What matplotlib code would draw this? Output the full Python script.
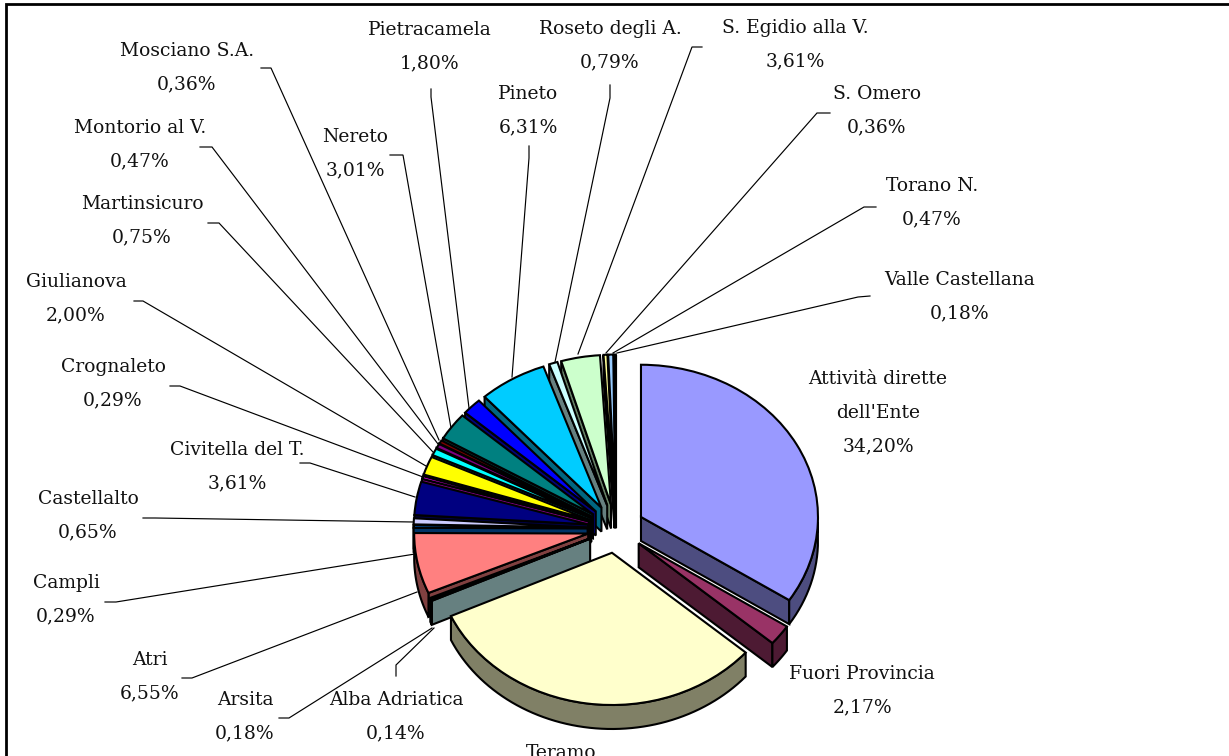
import numpy as np
import matplotlib
matplotlib.use('Agg')
import matplotlib.pyplot as plt
from matplotlib.patches import Polygon
from matplotlib.transforms import Affine2D
from matplotlib.colors import to_rgb

names = ["Attività dirette\ndell'Ente", "Fuori Provincia", "Teramo", "Alba Adriatica", "Arsita", "Atri",
         "Campli", "Castellalto", "Civitella del T.", "Crognaleto", "Giulianova", "Martinsicuro",
         "Montorio al V.", "Mosciano S.A.", "Nereto", "Pietracamela", "Pineto", "Roseto degli A.",
         "S. Egidio alla V.", "S. Omero", "Torano N.", "Valle Castellana"]
values = [34.20, 2.17, 31.81, 0.14, 0.18, 6.55, 0.29, 0.65, 3.61, 0.29, 2.00, 0.75,
          0.47, 0.36, 3.01, 1.80, 6.31, 0.79, 3.61, 0.36, 0.47, 0.18]
colors = ['#9999FF', '#993366', '#FFFFCC', '#CCFFFF', '#660066', '#FF8080', '#0066CC', '#CCCCFF',
          '#000080', '#FF00FF', '#FFFF00', '#00FFFF', '#800080', '#800000', '#008080', '#0000FF',
          '#00CCFF', '#CCFFFF', '#CCFFCC', '#FFFF99', '#99CCFF', '#FF99CC']

# layout, in picture pixels (y from the top)
W, H = 1229, 756
cx, cy = 616, 528.6
radius = 177
fan_radius = 174  # the small slices at the back look a bit smaller
squash = 0.86
explode = 28.4
depth = 24
edge_lw = 1.5
label_pos = [(878, 379), (862, 674), (561, 753), (396, 700), (245, 700), (150, 660),
             (66, 583), (88, 499), (237, 450), (113, 367), (76, 282), (142, 204),
             (140, 128), (187, 51), (355, 137), (430, 30), (528, 94), (610, 29),
             (795, 28), (877, 94), (932, 186), (960, 280)]
leaders = [None, None, None,
           [(396, 676), (396, 665), (434, 628)],
           [(279, 718), (289, 718), (432, 628)],
           [(182, 678), (192, 678), (417, 592)],
           [(105, 602), (116, 602), (415, 554)],
           [(143, 518), (155, 518), (413, 522)],
           [(300, 463), (310, 463), (415, 497)],
           [(170, 386), (180, 386), (423, 477)],
           [(134, 301), (143, 301), (426, 466)],
           [(208, 223), (219, 223), (433, 452)],
           [(200, 147), (212, 147), (438, 444)],
           [(261, 68), (271, 68), (439, 440)],
           [(390, 155), (403, 155), (451, 428)],
           [(431, 89), (431, 97), (469, 408)],
           [(529, 146), (529, 158), (512, 377)],
           [(610, 85), (610, 98), (555, 362)],
           [(702, 47), (692, 47), (578, 354)],
           [(830, 113), (817, 113), (606, 353)],
           [(876, 207), (864, 207), (613, 353)],
           [(870, 296), (858, 297), (617, 353)]]

plt.rcParams['font.family'] = 'DejaVu Serif'
fig = plt.figure(figsize=(W / 100, H / 100), dpi=100)
ax = fig.add_axes([0, 0, 1, 1])

cy_up = H - cy
wedges, _ = ax.pie(values, colors=colors, explode=[explode] * len(values), startangle=90,
                   counterclock=False, radius=radius, center=(cx, cy_up), normalize=True,
                   wedgeprops=dict(edgecolor='black', linewidth=edge_lw, zorder=50))
ax.set_aspect('auto')
ax.set_xlim(0, W)
ax.set_ylim(0, H)
ax.axis('off')

flat = Affine2D().translate(-cx, -cy_up).scale(1, squash).translate(cx, cy_up)
for w in wedges[3:]:
    w.set_radius(fan_radius)


def rim(w, t):
    # point on the flattened rim of a wedge at math angle t
    x = w.center[0] + w.r * np.cos(np.radians(t))
    y = w.center[1] + w.r * np.sin(np.radians(t))
    return flat.transform(np.column_stack([x, y]))


def add_wall(top, color, z):
    low = top[::-1] - [0, depth]
    ax.add_patch(Polygon(np.vstack([top, low]), closed=True, facecolor=color,
                         edgecolor='black', linewidth=edge_lw, zorder=z))


# side walls go first, the ones at the back before the ones in front
order = sorted(range(len(wedges)), key=lambda i: -np.sin(np.radians((wedges[i].theta1 + wedges[i].theta2) / 2)))
for z, i in enumerate(order):
    w = wedges[i]
    w.set_transform(flat + ax.transData)
    dark = tuple(c * 0.5 for c in to_rgb(colors[i]))
    apex = flat.transform([w.center])
    if np.cos(np.radians(w.theta1)) > 0:
        add_wall(np.vstack([apex, rim(w, np.array([w.theta1]))]), dark, 5 + z)
    if np.cos(np.radians(w.theta2)) < 0:
        add_wall(np.vstack([apex, rim(w, np.array([w.theta2]))]), dark, 5 + z)
    ts = np.linspace(w.theta1, w.theta2, 60)
    ts = ts[np.sin(np.radians(ts)) <= 0]
    if len(ts) > 1:
        add_wall(rim(w, ts), dark, 5 + z)

for i, name in enumerate(names):
    x, y = label_pos[i]
    pct = ('%.2f' % values[i]).replace('.', ',') + '%'
    lines = name.split('\n') + [pct]
    for j, line in enumerate(lines):
        yy = y + j * 33.7 - 2
        if yy < H:
            ax.text(x, H - yy, line, ha='center', va='center_baseline', fontsize=13.5, color='#111111', zorder=60)
    if leaders[i] is not None:
        pts = np.array(leaders[i])
        ax.plot(pts[:, 0], H - pts[:, 1], color='black', lw=0.85, zorder=2, solid_joinstyle='miter')

# chart frame, cut by the picture on the right and at the bottom
ax.plot([6, 6, W], [0, H - 4, H - 4], color='black', lw=2, zorder=70, solid_joinstyle='miter')

plt.savefig('out.png', dpi=100, facecolor='white')
